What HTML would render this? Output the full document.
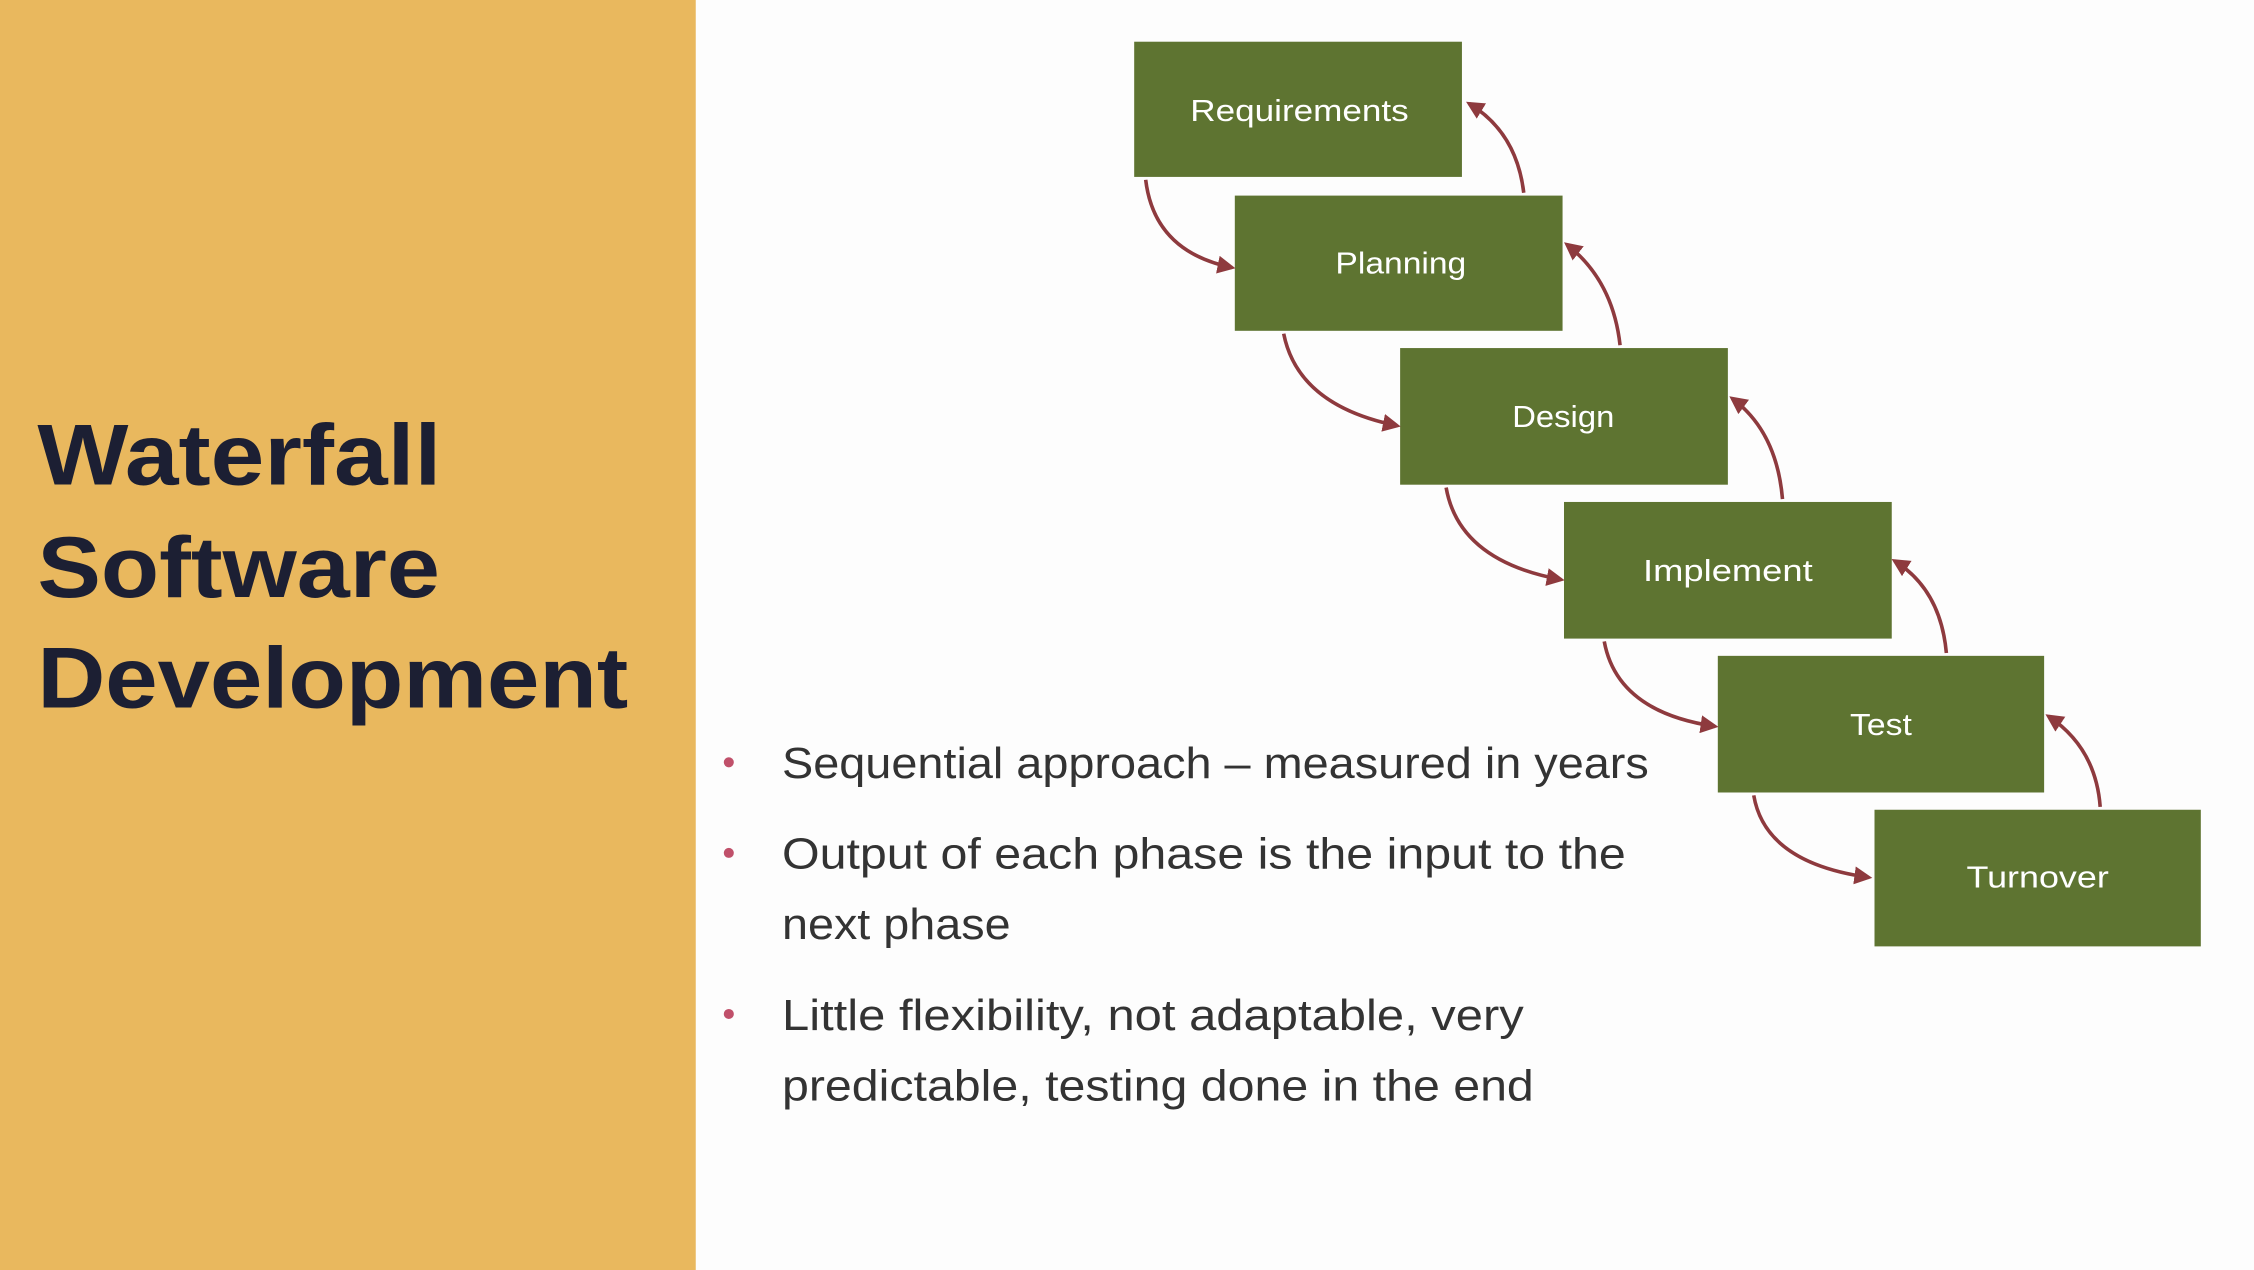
<!DOCTYPE html>
<html><head><meta charset="utf-8"><style>html,body{margin:0;padding:0;background:#fff;}svg{display:block;}</style></head>
<body>
<svg width="2254" height="1270" viewBox="0 0 1568 883" preserveAspectRatio="none" xmlns="http://www.w3.org/2000/svg">
<defs>
<marker id="ah" viewBox="0 0 10 10" refX="8" refY="5" markerWidth="5" markerHeight="5" orient="auto" markerUnits="strokeWidth">
<path d="M0,0 L10,5 L0,10 Z" fill="#8E3A3E"/></marker>
</defs>
<rect x="0" y="0" width="1568" height="883" fill="#fdfdfd"/>
<rect x="0" y="0" width="484" height="883" fill="#E9B85E"/>
<g font-family="'Liberation Sans', sans-serif" font-weight="bold" fill="#1c1f33" font-size="60">
<text x="26" y="337" textLength="281" lengthAdjust="spacingAndGlyphs">Waterfall</text>
<text x="26" y="415" textLength="280" lengthAdjust="spacingAndGlyphs">Software</text>
<text x="26" y="492" textLength="411" lengthAdjust="spacingAndGlyphs">Development</text>
</g>
<g fill="#5E7431">
<rect x="789" y="29" width="228" height="94"/>
<rect x="859" y="136" width="228" height="94"/>
<rect x="974" y="242" width="228" height="95"/>
<rect x="1088" y="349" width="228" height="95"/>
<rect x="1195" y="456" width="227" height="95"/>
<rect x="1304" y="563" width="227" height="95"/>
</g>
<g font-family="'Liberation Sans', sans-serif" fill="#fff" font-size="21">
<text x="828" y="84" textLength="152" lengthAdjust="spacingAndGlyphs">Requirements</text>
<text x="929" y="190" textLength="91" lengthAdjust="spacingAndGlyphs">Planning</text>
<text x="1052" y="297" textLength="71" lengthAdjust="spacingAndGlyphs">Design</text>
<text x="1143" y="404" textLength="118" lengthAdjust="spacingAndGlyphs">Implement</text>
<text x="1287" y="511" textLength="43" lengthAdjust="spacingAndGlyphs">Test</text>
<text x="1368" y="617" textLength="99" lengthAdjust="spacingAndGlyphs">Turnover</text>
</g>
<g fill="none" stroke="#8E3A3E" stroke-width="2.5" marker-end="url(#ah)">
<path d="M797,125 Q803,175 857,186"/>
<path d="M1060,134 Q1055,92 1022,72"/>
<path d="M893,232 Q903,282 972,296"/>
<path d="M1127,240 Q1122,195 1090,170"/>
<path d="M1006,339 Q1015,390 1086,403"/>
<path d="M1240,347 Q1236,300 1205,277"/>
<path d="M1116,446 Q1125,495 1193,505"/>
<path d="M1354,454 Q1350,410 1318,390"/>
<path d="M1220,553 Q1228,600 1300,610"/>
<path d="M1461,561 Q1458,520 1425,498"/>
</g>
<g fill="#C0506A">
<circle cx="507" cy="530" r="3.5"/>
<circle cx="507" cy="593" r="3.5"/>
<circle cx="507" cy="705" r="3.5"/>
</g>
<g font-family="'Liberation Sans', sans-serif" fill="#333" font-size="30">
<text x="544" y="541" textLength="603" lengthAdjust="spacingAndGlyphs">Sequential approach – measured in years</text>
<text x="544" y="604" textLength="587" lengthAdjust="spacingAndGlyphs">Output of each phase is the input to the</text>
<text x="544" y="653" textLength="159" lengthAdjust="spacingAndGlyphs">next phase</text>
<text x="544" y="716" textLength="516" lengthAdjust="spacingAndGlyphs">Little flexibility, not adaptable, very</text>
<text x="544" y="765" textLength="523" lengthAdjust="spacingAndGlyphs">predictable, testing done in the end</text>
</g>
</svg>
</body></html>
